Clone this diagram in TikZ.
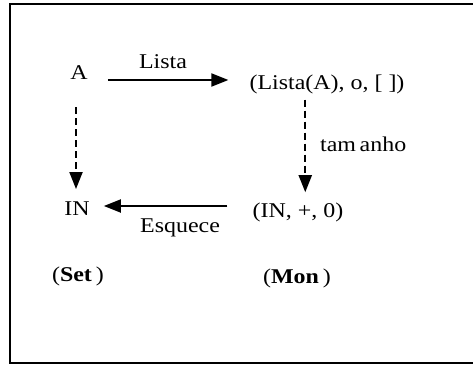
\documentclass[tikz,border=0pt]{standalone}
\usepackage{fontspec}
\setmainfont{Liberation Serif}
\usetikzlibrary{arrows.meta,calc}
\newcommand\wide[1]{\scalebox{1.14}[1]{#1}}
\tikzset{
  lbl/.style={inner sep=0pt, anchor=base, font=\fontsize{21}{25}\selectfont},
  arr/.style={line width=2pt, -{Triangle[length=17pt,width=13pt]}},
  darr/.style={arr, dash pattern=on 7pt off 4pt},
  frame/.style={line width=2.6pt}
}
\begin{document}
\begin{tikzpicture}[x=1pt,y=-1pt]
  \useasboundingbox (0,0) rectangle (473,366);
  \draw[frame] (10,4) rectangle (485,363);

  % objects
  \node[lbl] (A) at (79,80) {\wide{A}};
  \node[lbl] (L) at (327,90) {\wide{(Lista(A), o, [ ])}};
  \node[lbl] (N) at (77,215) {\wide{IN}};
  \node[lbl] (M) at (298,217) {\wide{(IN, +, 0)}};

  % category names
  \node[lbl] (set) at (78,281) {\wide{(\textbf{Set}\,)}};
  \node[lbl] (mon) at (297,283) {\wide{(\textbf{Mon}\,)}};

  % arrow labels
  \node[lbl] (lista) at (163,69) {\wide{Lista}};
  \node[lbl, anchor=base west] (tam) at (320,152) {\wide{tam\hspace{0.15em}anho}};
  \node[lbl] (esq) at (180,232) {\wide{Esquece}};

  % morphisms
  \draw[arr, shorten <=20pt, shorten >=21pt] (A.base east) -- (A.base east -| L.west);
  \draw[darr, shorten <=27pt, shorten >=12pt] ([xshift=-3pt]A.south) -- ([xshift=-3pt]A.south |- N.north);
  \coordinate (ltop) at ($(L.south west)!0.36!(L.south east)$);
  \draw[darr, shorten <=5pt, shorten >=10pt] (ltop) -- (ltop |- M.north);
  \draw[arr, shorten <=25pt, shorten >=14pt] ([yshift=11pt]M.base west) -- ([yshift=11pt]M.base west -| N.east);
\end{tikzpicture}
\end{document}
